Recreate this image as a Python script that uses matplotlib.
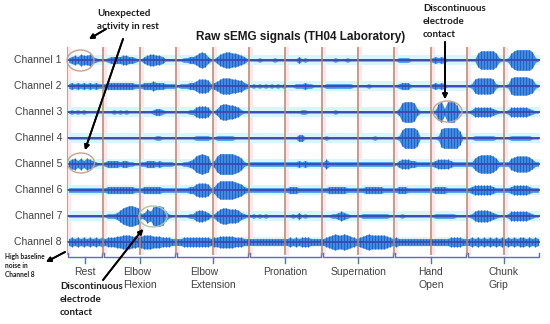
import matplotlib
matplotlib.use('Agg')
import numpy as np
import matplotlib.pyplot as plt
from matplotlib.patches import Ellipse

plt.rcParams['font.family'] = ['Liberation Sans', 'DejaVu Sans']

# envelope of each channel: 13 segments x 12 samples, digit = half amplitude (~px)
ch1 = ["234354453211", "123333443321", "134554431111", "112233467631", "135677665431",
       "111211112111", "111131211111", "111121112111", "111111111111", "122221111111",
       "232321111111", "111688888621", "126899999721"]
ch2 = ["232323232322", "233333333322", "233343332222", "122233466652", "346777665532",
       "121212121212", "111222322111", "122222222211", "111211111111", "123331111111",
       "232321111111", "126777776211", "127888887621"]
ch3 = ["121212111111", "111212121111", "111123321111", "111122455541", "136776654211",
       "111111111111", "111112211111", "111121111111", "111111111111", "138999831111",
       "127939996111", "124444443211", "124444443211"]
ch4 = ["111111111111", "111111111111", "111112211111", "111111222221", "122222211111",
       "111111111111", "111133111111", "121111111111", "111112111111", "127999971111",
       "112899999611", "112222222111", "112222222111"]
ch5 = ["345353543211", "233332332211", "223332322221", "112234789871", "379999987521",
       "222222222222", "222232322222", "242222222222", "222222222222", "134443322222",
       "234444322222", "225788887522", "225677776422"]
ch6 = ["222222222222", "233333333322", "233333322222", "222233566652", "368888876532",
       "222222222222", "233322222222", "223333332222", "223333332222", "233322222222",
       "233332222222", "234444443222", "223444443222"]
ch7 = ["111111111111", "122235789987", "236489984211", "111122455431", "246776665321",
       "121212111111", "112131211111", "111223432111", "122222222211", "112111111111",
       "122222221111", "124555543211", "124444443211"]
ch8 = ["343434343434", "344455666554", "566655544433", "334444444443", "445555544433",
       "333333333333", "343434443333", "345676676543", "456766666543", "433333333333",
       "333333444433", "343434343434", "343434434343"]
channels = [ch1, ch2, ch3, ch4, ch5, ch6, ch7, ch8]
channel_names = [f'Channel {i}' for i in range(1, 9)]

movements = ['Rest', 'Elbow\nFlexion', 'Elbow\nExtension', 'Pronation',
             'Supernation', 'Hand\nOpen', 'Chunk\nGrip']
movement_spans = [(0, 1), (1, 3), (3, 5), (5, 7), (7, 9), (9, 11), (11, 13)]

N_SEG = 13
N_SAMP = 12
PX = 1 / 26.0          # one pixel in y data units
SEG_PX = 473 / 13.0    # one segment in pixels

fig = plt.figure(figsize=(5.5, 3.24), dpi=100)
ax = fig.add_axes([67 / 550, 1 - 255 / 324, 473 / 550, 208 / 324])
ax.set_xlim(0, N_SEG)
ax.set_ylim(-8.5, -0.5)
ax.axis('off')

x = (np.arange(N_SEG * N_SAMP) + 0.5) / N_SAMP

for k, ch in enumerate(channels, start=1):
    d = np.array([int(c) for c in ''.join(ch)], dtype=float)
    amp = d * 1.15 * PX
    y0 = -k
    ax.fill_between([0, N_SEG], y0 - 5 * PX, y0 + 5 * PX, color='#d6f5fc', lw=0, zorder=1)
    ax.fill_between(x, y0 - amp, y0 + amp, color='#3f8fe2', lw=0, zorder=2)
    big = d >= 3
    ax.vlines(x[big], y0 - amp[big], y0 + amp[big], color='#2a60c6', lw=0.8, zorder=3)
    ax.plot([0, N_SEG], [y0, y0], color='#3a48b0', lw=1.3, zorder=4)
    ax.text(-5 / SEG_PX, y0, channel_names[k - 1], ha='right', va='center',
            fontsize=7.5, color='#404040')

# segment separators
for s in range(N_SEG):
    ax.axvspan(s + 1 / SEG_PX, s + 4 / SEG_PX, color='#fde6ef', lw=0, zorder=0)
    ax.axvline(s, color='#c08060', lw=1.1, zorder=5)

# movement brackets and labels
yb = -8.5 - 2 * PX
for (a, b), name in zip(movement_spans, movements):
    g = 1 / SEG_PX
    mid = (a + b) / 2
    ax.plot([a + g, a + g, b - g, b - g], [yb + 4 * PX, yb, yb, yb + 4 * PX],
            color='#4a72c8', lw=1.0, clip_on=False)
    ax.plot([mid, mid], [yb, yb - 6 * PX], color='#4a72c8', lw=1.0, clip_on=False)
    ax.text(mid, -8.5 - 12 * PX, name, ha='center', va='top', multialignment='left',
            fontsize=7.5, color='#404040', linespacing=1.35, clip_on=False)

# ellipses marking artefacts
def px_ellipse(cx, cy, w, h, color):
    e = Ellipse(((cx - 67) / SEG_PX, -8.5 + (255 - cy) * PX), w / SEG_PX, h * PX,
                fill=False, edgecolor=color, lw=1.0, zorder=6, clip_on=False)
    ax.add_patch(e)

px_ellipse(80.5, 60.5, 27, 21, '#c8a08a')
px_ellipse(81, 163, 27, 20, '#c8a08a')
px_ellipse(447.5, 111.5, 29, 21, '#c8a08a')
px_ellipse(153, 216.5, 28, 21, '#a8c8a8')

# title and annotations (figure pixel coordinates)
def fp(xp, yp):
    return (xp / 550, 1 - yp / 324)

fig.text(*fp(301, 37), 'Raw sEMG signals (TH04 Laboratory)', ha='center', va='center',
         fontsize=8.5, fontweight='bold', color='#1a1a1a')

ann = dict(fontsize=7, fontweight='bold', family=['Lato', 'DejaVu Sans'],
           color='#1a1a1a', linespacing=1.55)
fig.text(*fp(97, 9), 'Unexpected\nactivity in rest', ha='left', va='top', **ann)
fig.text(*fp(423, 4), 'Discontinuous\nelectrode\ncontact', ha='left', va='top', **ann)
fig.text(*fp(60, 282), 'Discontinuous\nelectrode\ncontact', ha='left', va='top', **ann)
fig.text(*fp(5, 253), 'High baseline\nnoise in\nChannel 8', ha='left', va='top',
         fontsize=4.8, fontweight='bold', family=['Lato', 'DejaVu Sans'],
         color='#1a1a1a', linespacing=1.3)

arrows = [((106, 29), (89, 39)), ((123, 39), (85, 150)), ((445, 42), (445, 99)),
          ((103, 280), (143, 229)), ((65, 252), (46, 262))]
for tail, head in arrows:
    fig.add_artist(plt.annotate('', xy=fp(*head), xytext=fp(*tail),
                                xycoords='figure fraction', textcoords='figure fraction',
                                arrowprops=dict(arrowstyle='-|>', color='black', lw=1.3,
                                                mutation_scale=7, shrinkA=0, shrinkB=0)))

fig.savefig('out.png', dpi=100)
